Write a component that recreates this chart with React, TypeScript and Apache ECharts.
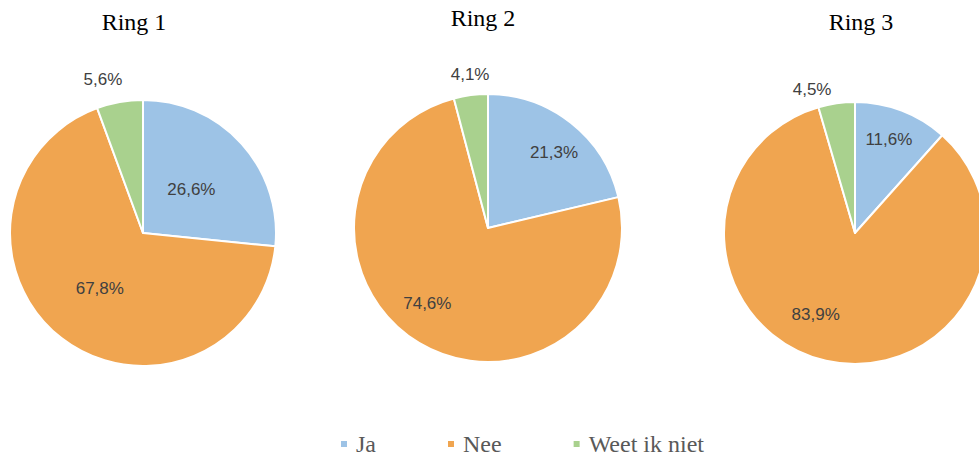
import React, { useEffect, useRef } from 'react';
import * as echarts from 'echarts';

const CATEGORIES = ['Ja', 'Nee', 'Weet ik niet'];
const RING_TITLES = ['Ring 1', 'Ring 2', 'Ring 3'];
const RING1 = [26.6, 67.8, 5.6];
const RING2 = [21.3, 74.6, 4.1];
const RING3 = [11.6, 83.9, 4.5];
const RINGS = [RING1, RING2, RING3];

const COLORS = ['#9DC3E6', '#F0A550', '#A9D18E'];

// layout (pixels in the 979x459 canvas)
const PIES = [
  { cx: 143, cy: 233, r: 133, titleX: 129, titleTop: 5 },
  { cx: 488, cy: 228, r: 134, titleX: 478, titleTop: 1 },
  { cx: 855, cy: 233, r: 131, titleX: 856, titleTop: 5 },
];
// label placement per slice: [fraction of radius, angle shift in degrees]
const LABEL_PLACE = [
  [[0.49, 0], [0.53, 0], [1.19, -4.6]],
  [[0.75, 2.7], [0.72, 8], [1.15, 0.7]],
  [[0.76, -1], [0.69, 13], [1.14, -8.6]],
];

const fmt = (v: number) => v.toFixed(1).replace('.', ',') + '%';

export default function App() {
  const ref = useRef<HTMLDivElement>(null);
  useEffect(() => {
    if (!ref.current) return;
    const chart = echarts.init(ref.current, null, { renderer: 'svg' });
    const series = RINGS.map((vals, k) => {
      const p = PIES[k];
      const total = vals.reduce((a, b) => a + b, 0);
      return {
        type: 'pie',
        name: RING_TITLES[k],
        center: [p.cx, p.cy],
        radius: [0, p.r],
        startAngle: 90,
        clockwise: true,
        avoidLabelOverlap: false,
        silent: true,
        emphasis: { disabled: true },
        itemStyle: { borderColor: '#ffffff', borderWidth: 2 },
        label: {
          show: true,
          position: 'inside',
          formatter: (d: any) => fmt(d.value),
          fontFamily: 'Liberation Sans',
          fontSize: 17,
          color: '#404040',
        },
        labelLine: { show: false },
        labelLayout: (params: any) => {
          const i = params.dataIndex;
          let cum = 0;
          for (let j = 0; j < i; j++) cum += vals[j];
          const [f, shift] = LABEL_PLACE[k][i];
          const mid = ((cum + vals[i] / 2) / total) * 360 + shift;
          const rad = (mid * Math.PI) / 180;
          return {
            x: p.cx + f * p.r * Math.sin(rad),
            y: p.cy - f * p.r * Math.cos(rad),
            align: 'center',
            verticalAlign: 'middle',
          };
        },
        data: CATEGORIES.map((name, i) => ({ name, value: vals[i] })),
      };
    });
    chart.setOption({
      animation: false,
      backgroundColor: '#ffffff',
      color: COLORS,
      title: PIES.map((p, k) => ({
        text: RING_TITLES[k],
        left: p.titleX,
        top: p.titleTop,
        textAlign: 'center',
        textStyle: {
          fontFamily: 'Liberation Serif',
          fontSize: 24,
          fontWeight: 'normal',
          color: '#000000',
        },
      })),
      legend: {
        data: CATEGORIES,
        left: 334,
        top: 427,
        orient: 'horizontal',
        icon: 'rect',
        itemWidth: 8,
        itemHeight: 8,
        itemGap: 70,
        selectedMode: false,
        textStyle: {
          fontFamily: 'Liberation Serif',
          fontSize: 24,
          color: '#595959',
          padding: [0, 0, 0, 3],
        },
      },
      series,
    });
    return () => chart.dispose();
  }, []);
  return (
    <div
      ref={ref}
      style={{ position: 'absolute', left: 0, top: 0, width: 979, height: 459, background: '#fff' }}
    />
  );
}
